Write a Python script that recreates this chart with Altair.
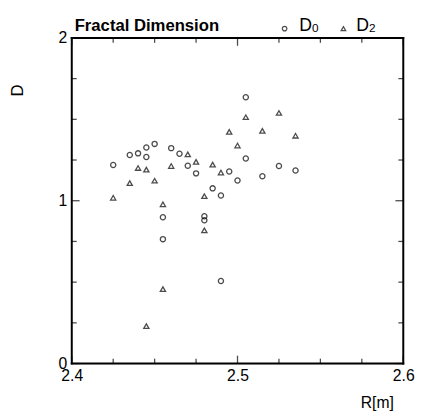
import altair as alt
import pandas as pd

# D0 (circles)
d0_R = [2.425, 2.435, 2.440, 2.445, 2.445, 2.450, 2.460, 2.465, 2.470, 2.475,
        2.455, 2.455, 2.480, 2.480, 2.485, 2.490, 2.490, 2.495, 2.500, 2.505,
        2.505, 2.515, 2.525, 2.535]
d0_D = [1.219, 1.281, 1.291, 1.327, 1.269, 1.349, 1.323, 1.289, 1.215, 1.168,
        0.898, 0.764, 0.880, 0.905, 1.076, 1.032, 0.507, 1.179, 1.124, 1.259,
        1.636, 1.150, 1.213, 1.186]
# D2 (triangles)
d2_R = [2.425, 2.435, 2.440, 2.445, 2.450, 2.460, 2.455, 2.455, 2.445, 2.470,
        2.475, 2.485, 2.490, 2.480, 2.480, 2.495, 2.500, 2.505, 2.515, 2.525,
        2.535]
d2_D = [1.018, 1.108, 1.201, 1.191, 1.123, 1.213, 0.978, 0.457, 0.230, 1.285,
        1.239, 1.222, 1.173, 1.028, 0.818, 1.423, 1.339, 1.513, 1.429, 1.539,
        1.399]

x_major = [2.4, 2.5, 2.6]
x_minor = [2.425, 2.45, 2.475, 2.525, 2.55, 2.575]
y_major = [0.0, 1.0, 2.0]
y_minor = [0.25, 0.5, 0.75, 1.25, 1.5, 1.75]
x_range = [2.4, 2.6]
y_range = [0.0, 2.0]

W, H = 338, 332
FONT = "Liberation Sans"
SIZE = 28
U = (SIZE ** 0.5) / 2.0  # pixels per path unit for custom symbol paths


def seg(dx, dy, length):
    L = length / U
    return "M0,0L%.3f,%.3f" % (dx * L, dy * L)


kinds = ["D0", "D2",
         "xb_maj", "xt_maj", "yl_maj", "yr_maj",
         "xb_min", "xt_min", "yl_min", "yr_min"]
shapes = ["circle", "triangle-up",
          seg(0, -1, 8), seg(0, 1, 8), seg(1, 0, 8), seg(-1, 0, 8),
          seg(0, -1, 5), seg(0, 1, 5), seg(1, 0, 5), seg(-1, 0, 5)]

rows_R, rows_D, rows_k = [], [], []


def add(rs, ds, k):
    rows_R.extend(rs)
    rows_D.extend(ds)
    rows_k.extend([k] * len(rs))


add(d0_R, d0_D, "D0")
add(d2_R, d2_D, "D2")
for vals, tag in ((x_major, "maj"), (x_minor, "min")):
    add(vals, [y_range[0]] * len(vals), "xb_" + tag)
    add(vals, [y_range[1]] * len(vals), "xt_" + tag)
for vals, tag in ((y_major, "maj"), (y_minor, "min")):
    add([x_range[0]] * len(vals), vals, "yl_" + tag)
    add([x_range[1]] * len(vals), vals, "yr_" + tag)

df = pd.DataFrame({"R": rows_R, "D": rows_D, "kind": rows_k})

xs = alt.Scale(domain=x_range, nice=False, zero=False)
ys = alt.Scale(domain=y_range, nice=False, zero=False)

x_axis = alt.Axis(
    values=x_major, format=".1f", ticks=False, domain=False, grid=False,
    labelFont=FONT, labelFontSize=16, labelColor="black", labelPadding=4,
    labelFlush=False, labelOverlap=False,
    title="R[m]", titleFont=FONT, titleFontSize=16, titleFontWeight="normal",
    titleColor="black", titleX=311, titleY=45, titleAlign="center",
    titleBaseline="alphabetic")
y_axis = alt.Axis(
    values=y_major, format=".0f", ticks=False, domain=False, grid=False,
    labelFont=FONT, labelFontSize=16, labelColor="black", labelPadding=5,
    labelFlush=False, labelOverlap=False,
    title="D", titleFont=FONT, titleFontSize=17, titleFontWeight="normal",
    titleColor="black", titleX=-55, titleY=53, titleAngle=270,
    titleAlign="center", titleBaseline="middle")

points = alt.Chart(df).mark_point(filled=False, color="black", strokeWidth=1.3, size=SIZE).encode(
    x=alt.X("R:Q", scale=xs, axis=x_axis),
    y=alt.Y("D:Q", scale=ys, axis=y_axis),
    shape=alt.Shape("kind:N", scale=alt.Scale(domain=kinds, range=shapes), legend=None),
)

one = pd.DataFrame({"k": [0]})


def frame_line(x, x2, y, y2):
    return alt.Chart(one).mark_rule(color="black", strokeWidth=2, strokeCap="square").encode(
        x=alt.value(x), x2=alt.value(x2), y=alt.value(y), y2=alt.value(y2))


def txt(s, x, y, size, weight="normal"):
    return alt.Chart(one).mark_text(align="left", baseline="alphabetic", font=FONT,
                                    fontSize=size, fontWeight=weight, color="black").encode(
        x=alt.value(x), y=alt.value(y), text=alt.value(s))


def sym(shape, x, y):
    return alt.Chart(one).mark_point(shape=shape, filled=False, color="black",
                                     strokeWidth=1.2, size=22).encode(
        x=alt.value(x), y=alt.value(y))


layers = [points,
          frame_line(0, W, 0, 0),
          frame_line(0, W, H, H),
          frame_line(0, 0, 0, H),
          frame_line(W, W, 0, H),
          txt("Fractal Dimension", 3, -7.5, 17, "bold"),
          sym("circle", 217, -9.5),
          txt("D", 232, -7.5, 18),
          txt("0", 245, -6, 12),
          sym("triangle-up", 277, -9.5),
          txt("D", 290, -7.5, 18),
          txt("2", 303, -6, 12)]

chart = alt.layer(*layers).properties(
    width=W, height=H,
    autosize=alt.AutoSizeParams(type="none"),
    padding={"left": 65, "top": 26.5, "right": 14, "bottom": 50},
).configure(background="white")

chart.save("out.html", embed_options={"renderer": "svg", "actions": False})
